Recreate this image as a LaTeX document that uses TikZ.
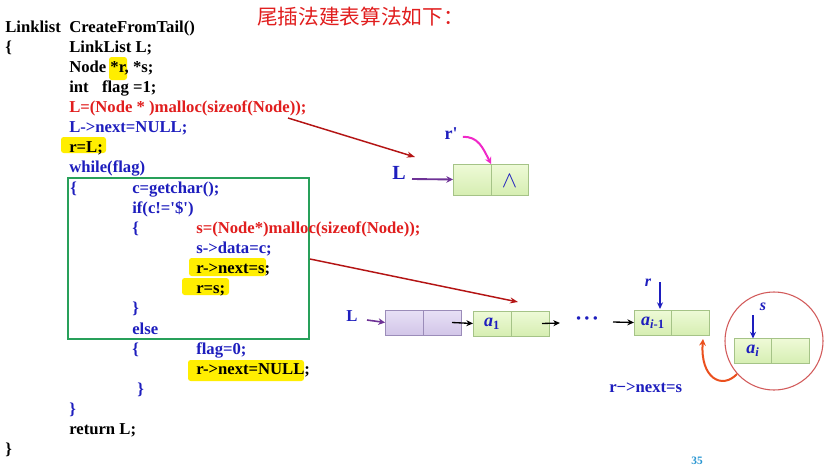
\documentclass[tikz,border=0pt]{standalone}
\usepackage{fontspec}
\setmainfont{Liberation Serif}
\newfontfamily\cjk{Noto Sans CJK SC}
\usetikzlibrary{arrows.meta}
\definecolor{cblue}{RGB}{30,30,190}
\definecolor{cred}{RGB}{225,30,30}
\definecolor{dred}{RGB}{180,20,20}
\definecolor{hl}{RGB}{255,238,0}
\definecolor{gtop}{RGB}{238,250,215}
\definecolor{gbot}{RGB}{214,238,178}
\definecolor{gline}{RGB}{165,195,135}
\definecolor{ptop}{RGB}{232,224,246}
\definecolor{pbot}{RGB}{210,198,232}
\definecolor{pline}{RGB}{155,140,185}
\definecolor{boxgreen}{RGB}{40,160,90}
\definecolor{mag}{RGB}{240,40,200}
\definecolor{purp}{RGB}{110,50,150}
\definecolor{orng}{RGB}{235,80,30}
\definecolor{circ}{RGB}{210,90,90}
\definecolor{pnum}{RGB}{40,150,210}
\tikzset{
  code/.style={anchor=west, inner sep=0pt, text height=8.5pt, text depth=2.5pt,
    font=\bfseries\fontsize{12.5}{13}\selectfont},
  hlbox/.style={fill=hl, rounded corners=2pt},
  gcell/.style={draw=gline, top color=gtop, bottom color=gbot, inner sep=0pt, outer sep=0pt,
    minimum width=38*0.75pt, minimum height=25*0.75pt},
  pcell/.style={draw=pline, top color=ptop, bottom color=pbot, inner sep=0pt, outer sep=0pt,
    minimum width=38*0.75pt, minimum height=25*0.75pt},
  redarrow/.style={draw=dred, line width=1.1pt, -{Stealth[length=6pt,width=4.5pt]}},
  blkarrow/.style={draw=black, line width=1pt, -{Stealth[length=5pt,width=4.5pt]}},
  purparrow/.style={draw=purp, line width=1.4pt, -{Stealth[length=5pt,width=5pt]}},
  bluearrow/.style={draw=cblue, line width=1pt, -{Stealth[length=5pt,width=4.5pt]}},
  lbl/.style={inner sep=0pt, font=\bfseries\fontsize{13.5}{14}\selectfont, text=cblue},
}
\begin{document}
\begin{tikzpicture}[x=0.75pt,y=-0.75pt]
\useasboundingbox (0,0) rectangle (832,468);
\fill[white] (0,0) rectangle (832,468);
% highlights
\fill[hlbox] (109,57) rectangle (127,80);
\fill[hlbox] (61,137) rectangle (106,153);
\fill[hlbox] (189,258) rectangle (266,276);
\fill[hlbox] (182,278) rectangle (229,295);
\fill[hlbox] (188,360) rectangle (304,381);
% green box
\draw[boxgreen, line width=1.5pt] (68,178) rectangle (309,339);
% title
\node[anchor=west, inner sep=0pt, text=cred, font=\cjk\fontsize{15.5}{16}\selectfont] (title) at (257,17) {尾插法建表算法如下：};
% code
\node[code] (c0a) at (5,28) {Linklist};
\node[code] (c0b) at (69,28) {CreateFromTail()};
\node[code] (c1a) at (5,48) {\{};
\node[code] (c1b) at (69,48) {LinkList L;};
\node[code] (c2) at (69,68) {Node *r, *s;};
\node[code] (c3) at (69,88) {int\hspace{10pt}flag =1;};
\node[code, text=cred] (c4) at (69,108) {L=(Node * )malloc(sizeof(Node));};
\node[code, text=cblue] (c5) at (69,128) {L->next=NULL;};
\node[code] (c6) at (69,148) {r=L;};
\node[code, text=cblue] (c7) at (69,168) {while(flag)};
\node[code, text=cblue] (c8a) at (70,189) {\{};
\node[code, text=cblue] (c8b) at (132,189) {c=getchar();};
\node[code, text=cblue] (c9) at (132,209) {if(c!=\textquotesingle\$\textquotesingle)};
\node[code, text=cblue] (c10a) at (132,229) {\{};
\node[code, text=cred] (c10b) at (196,229) {s=(Node*)malloc(sizeof(Node));};
\node[code, text=cblue] (c11) at (196,249) {s->data=c;};
\node[code] (c12) at (196,269) {r->next=s;};
\node[code] (c13) at (196,289) {r=s;};
\node[code, text=cblue] (c14) at (132,309) {\}};
\node[code, text=cblue] (c15) at (132,330) {else};
\node[code, text=cblue] (c16a) at (132,350) {\{};
\node[code, text=cblue] (c16b) at (196,350) {flag=0;};
\node[code] (c17) at (196,370) {r->next=NULL;};
\node[code, text=cblue] (c18) at (137,390) {\}};
\node[code, text=cblue] (c19) at (69,410) {\}};
\node[code] (c20) at (69,430) {return L;};
\node[code] (c21) at (5,450) {\}};
% top list (empty)
\node[gcell, minimum height=31*0.75pt] (t1) at (472,179.5) {};
\node[gcell, minimum height=31*0.75pt, minimum width=37*0.75pt] (t2) at (509.5,179.5) {};
\node[inner sep=0pt, text=cblue, font=\fontsize{19}{19}\selectfont] (nil) at ([yshift=-1pt]t2.center) {$\wedge$};
\node[lbl, font=\bfseries\fontsize{15}{15}\selectfont] (Ltop) at (399,173) {L};
\node[lbl] (rp) at (451,134) {r\textquotesingle};
\draw[purparrow] (412,179) -- (t1.west);
\draw[mag, line width=1.5pt, -{Stealth[length=5pt,width=5pt]}] (rp.east) ++(5,3) .. controls (478,136) and (483,148) .. (t1.north east);
% red arrows
\coordinate (m1) at (288,118);
\coordinate (m1e) at (415,157);
\draw[redarrow] (m1) -- (m1e);
\coordinate (m2) at (310,259);
\coordinate (m2e) at (518,302);
\draw[redarrow] (m2) -- (m2e);
% bottom list
\node[pcell] (p1) at (404,322.5) {};
\node[pcell] (p2) at (442,322.5) {};
\node[lbl, font=\bfseries\fontsize{12.5}{13}\selectfont] (Lbot) at (352,316) {L};
\draw[purparrow, line width=1.2pt] (367,320) -- (p1.west);
\node[gcell] (a1L) at (492,323.5) {};
\node[gcell] (a1R) at (530,323.5) {};
\node[lbl] (a1t) at (a1L.center) {\textit{a}\textsubscript{1}};
\draw[blkarrow] ([xshift=-9*0.75pt]p2.east) -- (a1L.west);
\node[lbl, font=\bfseries\fontsize{16}{16}\selectfont] (dots) at (587,321) {\textperiodcentered\kern1pt\textperiodcentered\kern1pt\textperiodcentered};
\draw[blkarrow] ([xshift=-7*0.75pt]a1R.east) -- (560,323);
\node[gcell] (aiL) at (653,322.5) {};
\node[gcell] (aiR) at (690.5,322.5) {};
\node[lbl] (ait) at (aiL.center) {\textit{a}\textsubscript{\textit{i}-1}};
\coordinate (dotsend) at (613,322);
\draw[blkarrow] (dotsend) -- (aiL.west);
\node[lbl, font=\bfseries\itshape\fontsize{12}{12}\selectfont] (rlab) at (648,283) {r};
\draw[bluearrow] (660,282) -- (660,309);
% circle and new node
\node[draw=circ, line width=0.8pt, circle, minimum size=98*0.75pt, inner sep=0pt] (circ) at (774,341) {};
\node[gcell] (snL) at (753,351) {};
\node[gcell] (snR) at (790.5,351) {};
\node[lbl] (snt) at (snL.center) {\textit{a}\textsubscript{\textit{i}}};
\node[lbl, font=\bfseries\itshape\fontsize{12}{12}\selectfont] (slab) at (763,307) {s};
\draw[bluearrow] (753,315) -- (snL.north);
\coordinate (cstart) at (737,374);
\draw[orng, line width=1.5pt, -{Stealth[length=5pt,width=5pt]}] (cstart) .. controls (722,390) and (700,378) .. (703,339);
\node[code, text=cblue] (rnext) at (609,388) {r−>next=s};
\node[inner sep=0pt, text=pnum, font=\bfseries\fontsize{8.5}{9}\selectfont] (pg) at (697,461) {35};
\end{tikzpicture}
\end{document}
